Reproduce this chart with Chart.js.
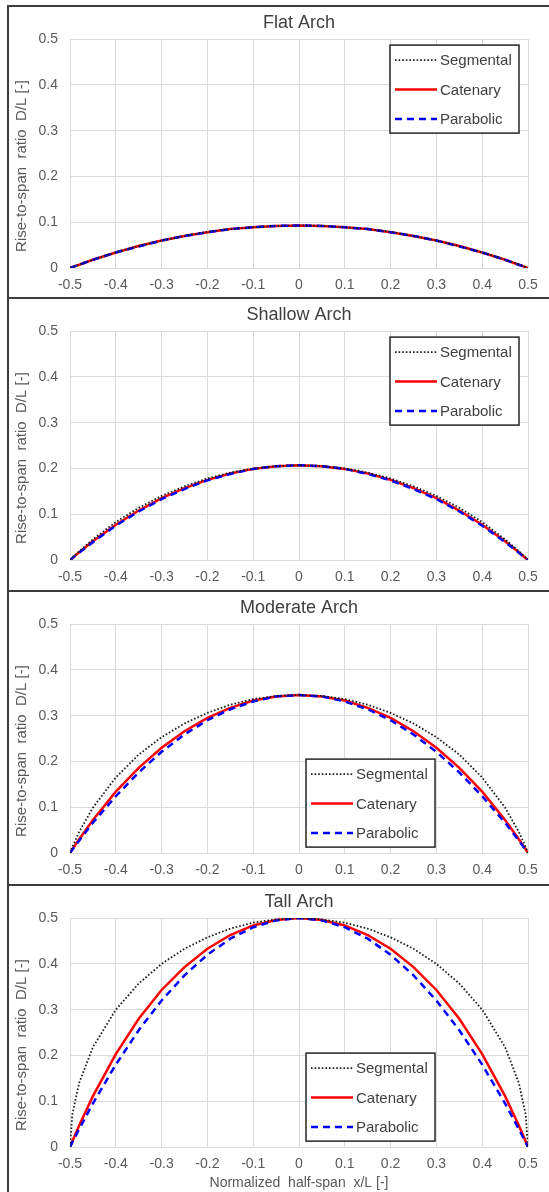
<!DOCTYPE html>
<html>
<head>
<meta charset="utf-8">
<title>Arch shapes</title>
<script src="https://cdn.jsdelivr.net/npm/chart.js@4.4.1/dist/chart.umd.min.js"></script>
<style>
  html, body { margin: 0; padding: 0; background: #fff; overflow: hidden; }
  body { position: relative; width: 549px; height: 1192px; }
  .panel { position: absolute; left: 7px; width: 560px; border: 2px solid #3c3c3c; background: #fff; }
  .panel canvas { display: block; }
</style>
</head>
<body>
<div class="panel" style="top:5px;height:290px"><canvas id="flat-chart" width="540" height="290"></canvas></div>
<div class="panel" style="top:297px;height:291px"><canvas id="shallow-chart" width="540" height="291"></canvas></div>
<div class="panel" style="top:590px;height:292px"><canvas id="moderate-chart" width="540" height="292"></canvas></div>
<div class="panel" style="top:884px;height:310px"><canvas id="tall-chart" width="540" height="310"></canvas></div>

<script>
// Vị trí nửa nhịp chuẩn hóa x/L (dùng chung cho mọi đường)
const spanX = [-0.5, -0.495, -0.48, -0.45, -0.4, -0.35, -0.3, -0.25, -0.2, -0.15, -0.1, -0.05, 0,
    0.05, 0.1, 0.15, 0.2, 0.25, 0.3, 0.35, 0.4, 0.45, 0.48, 0.495, 0.5];

// Nhãn trục
const xTicks = [-0.5, -0.4, -0.3, -0.2, -0.1, 0, 0.1, 0.2, 0.3, 0.4, 0.5];
const yTicks = [0, 0.1, 0.2, 0.3, 0.4, 0.5];
const seriesNames = ["Segmental", "Catenary", "Parabolic"];

// Flat Arch
const flatSegmental = [0, 0.002, 0.008, 0.018, 0.034, 0.048, 0.060, 0.070, 0.079, 0.085, 0.089, 0.092, 0.093,
    0.092, 0.089, 0.085, 0.079, 0.070, 0.060, 0.048, 0.034, 0.018, 0.008, 0.002, 0];
const flatCatenary = [0, 0.002, 0.007, 0.018, 0.034, 0.048, 0.060, 0.070, 0.078, 0.085, 0.089, 0.092, 0.093,
    0.092, 0.089, 0.085, 0.078, 0.070, 0.060, 0.048, 0.034, 0.018, 0.007, 0.002, 0];
const flatParabolic = [0, 0.002, 0.007, 0.018, 0.034, 0.047, 0.060, 0.070, 0.078, 0.085, 0.089, 0.092, 0.093,
    0.092, 0.089, 0.085, 0.078, 0.070, 0.060, 0.047, 0.034, 0.018, 0.007, 0.002, 0];

// Shallow Arch
const shallowSegmental = [0, 0.005, 0.019, 0.045, 0.083, 0.114, 0.140, 0.161, 0.178, 0.191, 0.200, 0.205, 0.207,
    0.205, 0.200, 0.191, 0.178, 0.161, 0.140, 0.114, 0.083, 0.045, 0.019, 0.005, 0];
const shallowCatenary = [0, 0.004, 0.017, 0.041, 0.077, 0.108, 0.135, 0.157, 0.175, 0.189, 0.199, 0.205, 0.207,
    0.205, 0.199, 0.189, 0.175, 0.157, 0.135, 0.108, 0.077, 0.041, 0.017, 0.004, 0];
const shallowParabolic = [0, 0.004, 0.016, 0.039, 0.075, 0.106, 0.133, 0.155, 0.174, 0.188, 0.199, 0.205, 0.207,
    0.205, 0.199, 0.188, 0.174, 0.155, 0.133, 0.106, 0.075, 0.039, 0.016, 0.004, 0];

// Moderate Arch
const moderateSegmental = [0, 0.013, 0.046, 0.099, 0.165, 0.215, 0.253, 0.283, 0.306, 0.324, 0.336, 0.343, 0.345,
    0.343, 0.336, 0.324, 0.306, 0.283, 0.253, 0.215, 0.165, 0.099, 0.046, 0.013, 0];
const moderateCatenary = [0, 0.008, 0.030, 0.072, 0.134, 0.186, 0.230, 0.266, 0.295, 0.317, 0.333, 0.342, 0.345,
    0.342, 0.333, 0.317, 0.295, 0.266, 0.230, 0.186, 0.134, 0.072, 0.030, 0.008, 0];
const moderateParabolic = [0, 0.007, 0.027, 0.066, 0.124, 0.176, 0.221, 0.259, 0.290, 0.314, 0.331, 0.342, 0.345,
    0.342, 0.331, 0.314, 0.290, 0.259, 0.221, 0.176, 0.124, 0.066, 0.027, 0.007, 0];

// Tall Arch
const tallSegmental = [0, 0.071, 0.140, 0.218, 0.300, 0.357, 0.400, 0.433, 0.458, 0.477, 0.490, 0.497, 0.500,
    0.497, 0.490, 0.477, 0.458, 0.433, 0.400, 0.357, 0.300, 0.218, 0.140, 0.071, 0];
const tallCatenary = [0, 0.012, 0.047, 0.111, 0.203, 0.280, 0.343, 0.393, 0.433, 0.463, 0.484, 0.496, 0.500,
    0.496, 0.484, 0.463, 0.433, 0.393, 0.343, 0.280, 0.203, 0.111, 0.047, 0.012, 0];
const tallParabolic = [0, 0.010, 0.039, 0.095, 0.180, 0.255, 0.320, 0.375, 0.420, 0.455, 0.480, 0.495, 0.500,
    0.495, 0.480, 0.455, 0.420, 0.375, 0.320, 0.255, 0.180, 0.095, 0.039, 0.010, 0];

Chart.defaults.font.family = '"Liberation Sans", Arial, sans-serif';
Chart.defaults.color = "#595959";

// Chú thích có khung, đặt bên trong vùng vẽ
const boxLegend = {
    id: "boxLegend",
    afterDatasetsDraw(chart, args, opts) {
        const ctx = chart.ctx;
        const area = chart.chartArea;
        const left = area.left + opts.left;
        const top = area.top + opts.top;
        ctx.save();
        ctx.fillStyle = "#fff";
        ctx.fillRect(left, top, 129, 88);
        ctx.strokeStyle = "#262626";
        ctx.lineWidth = 1.5;
        ctx.strokeRect(left, top, 129, 88);
        chart.data.datasets.forEach((ds, i) => {
            const y = top + 15 + i * 29.5;
            ctx.beginPath();
            ctx.setLineDash(ds.borderDash || []);
            ctx.strokeStyle = ds.borderColor;
            ctx.lineWidth = ds.borderWidth;
            ctx.moveTo(left + 5, y);
            ctx.lineTo(left + 47, y);
            ctx.stroke();
            ctx.setLineDash([]);
            ctx.fillStyle = "#404040";
            ctx.font = '15px "Liberation Sans", Arial, sans-serif';
            ctx.textBaseline = "middle";
            ctx.fillText(ds.label, left + 50, y + 1);
        });
        ctx.restore();
    }
};

function toPoints(values) {
    return values.map((v, i) => ({ x: spanX[i], y: v }));
}

function drawArchChart(canvasId, title, segmental, catenary, parabolic, legendPos, showXTitle) {
    const ctx = document.getElementById(canvasId).getContext("2d");
    return new Chart(ctx, {
        type: "line",
        data: {
            datasets: [
                {
                    label: seriesNames[0],
                    data: toPoints(segmental),
                    borderColor: "#1a1a1a",
                    borderWidth: 1.8,
                    borderDash: [1.6, 2],
                    order: 0,
                },
                {
                    label: seriesNames[1],
                    data: toPoints(catenary),
                    borderColor: "#ff0000",
                    borderWidth: 2.5,
                    order: 2,
                },
                {
                    label: seriesNames[2],
                    data: toPoints(parabolic),
                    borderColor: "#0000ff",
                    borderWidth: 2.5,
                    borderDash: [7, 5],
                    order: 1,
                },
            ]
        },
        options: {
            responsive: false,
            animation: false,
            tension: 0,
            pointRadius: 0,
            layout: { padding: { left: 0, right: 21, top: 0, bottom: 0 } },
            scales: {
                x: {
                    type: "linear",
                    min: -0.5,
                    max: 0.5,
                    afterBuildTicks: scale => { scale.ticks = xTicks.map(v => ({ value: v })); },
                    afterFit: scale => { scale.height = scale.chart.height - 261; },
                    ticks: { font: { size: 14 }, padding: 9, maxRotation: 0, autoSkip: false, callback: v => String(v) },
                    grid: { color: "#dadada", drawTicks: false },
                    border: { display: false },
                    title: {
                        display: showXTitle,
                        text: "Normalized  half-span  x/L [-]",
                        font: { size: 14 },
                        padding: { top: 0, bottom: 4 },
                    },
                },
                y: {
                    min: 0,
                    max: 0.5,
                    afterBuildTicks: scale => { scale.ticks = yTicks.map(v => ({ value: v })); },
                    afterFit: scale => { scale.width = 61; },
                    ticks: { font: { size: 14 }, padding: 12, callback: v => String(v) },
                    grid: { color: "#dadada", drawTicks: false },
                    border: { display: false },
                    title: {
                        display: true,
                        // espaces finales : décale le texte vers le bas comme dans l'original
                        text: "Rise-to-span  ratio  D/L [-]      ",
                        font: { size: 15 },
                        padding: { top: 4, bottom: 0 },
                    },
                },
            },
            plugins: {
                legend: { display: false },
                tooltip: { enabled: false },
                title: {
                    display: true,
                    text: title,
                    color: "#404040",
                    fullSize: false,
                    font: { size: 18, weight: "normal" },
                    padding: { top: 5.5, bottom: 5 },
                },
                boxLegend: legendPos,
            },
        },
        plugins: [boxLegend],
    });
}

drawArchChart("flat-chart", "Flat Arch", flatSegmental, flatCatenary, flatParabolic, { left: 320, top: 6 }, false);
drawArchChart("shallow-chart", "Shallow Arch", shallowSegmental, shallowCatenary, shallowParabolic, { left: 320, top: 6 }, false);
drawArchChart("moderate-chart", "Moderate Arch", moderateSegmental, moderateCatenary, moderateParabolic, { left: 236, top: 135 }, false);
drawArchChart("tall-chart", "Tall Arch", tallSegmental, tallCatenary, tallParabolic, { left: 236, top: 135 }, true);
</script>
</body>
</html>
